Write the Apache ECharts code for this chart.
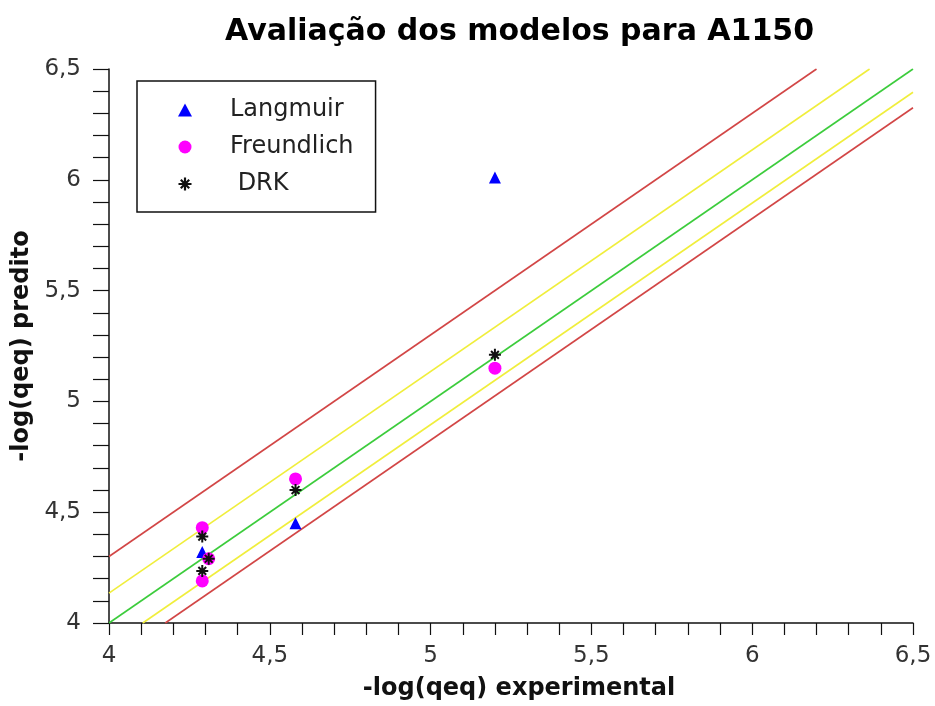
<!DOCTYPE html>
<html>
<head>
<meta charset="utf-8">
<script src="https://cdn.jsdelivr.net/npm/echarts@6/dist/echarts.min.js"></script>
<style>
  html, body { margin: 0; padding: 0; background: #fff; }
  #chart { width: 935px; height: 706px; }
</style>
</head>
<body>
<div id="chart"></div>
<script>
// Model predictions of -log(qeq) against the experimental values
const langmuirPts = [[4.29, 4.32], [4.58, 4.45], [5.20, 6.01]];
const freundlichPts = [[4.29, 4.43], [4.31, 4.29], [4.29, 4.19], [4.58, 4.65], [5.20, 5.15]];
const drkPts = [[4.29, 4.39], [4.31, 4.29], [4.29, 4.235], [4.58, 4.60], [5.20, 5.21]];

// Reference lines: identity and the two deviation bands (end points)
const identityLine = [[4, 4], [6.5, 6.5]];
const yellowUpper = [[4, 4.135], [6.365, 6.5]];
const yellowLower = [[4.105, 4], [6.5, 6.395]];
const redUpper = [[4, 4.30], [6.2, 6.5]];
const redLower = [[4.175, 4], [6.5, 6.325]];

const legendNames = ['Langmuir', 'Freundlich', ' DRK'];
const axisMin = 4, axisMax = 6.5, axisStep = 0.5;

const FONT = 'DejaVu Sans';
// eight-armed asterisk marker
const asteriskPath = 'path://M-1,-6L1,-6L1,6L-1,6Z M-6,-1L6,-1L6,1L-6,1Z ' +
  'M-3.18,-4.6L4.6,3.18L3.18,4.6L-4.6,-3.18Z M4.6,-3.18L-3.18,4.6L-4.6,3.18L3.18,-4.6Z';

const commaLabel = v => String(+v.toFixed(1)).replace('.', ',');

function refLine(data, color) {
  return {
    type: 'line', data: data, showSymbol: false, silent: true,
    lineStyle: { color: color, width: 1.6 }, z: 1, animation: false
  };
}

const chart = echarts.init(document.getElementById('chart'));
chart.setOption({
  animation: false,
  backgroundColor: '#fff',
  title: {
    text: 'Avaliação dos modelos para A1150',
    left: 225, top: 17, padding: 0,
    textStyle: { fontFamily: FONT, fontSize: 30, fontWeight: 'bold', color: '#000' }
  },
  grid: { left: 109, right: 22, top: 69, bottom: 82 },
  legend: {
    data: legendNames,
    orient: 'vertical',
    left: 137, top: 81,
    backgroundColor: '#fff',
    borderColor: '#111', borderWidth: 1.5,
    padding: [17, 22, 16, 41],
    itemWidth: 14, itemHeight: 13, itemGap: 13,
    textStyle: { fontFamily: FONT, fontSize: 24, lineHeight: 20, color: '#222', padding: [0, 0, 0, 33] }
  },
  xAxis: {
    type: 'value', min: axisMin, max: axisMax, interval: axisStep,
    name: '-log(qeq) experimental', nameLocation: 'middle', nameGap: 54,
    nameTextStyle: { fontFamily: FONT, fontSize: 24, fontWeight: 'bold', color: '#111', padding: [0, 0, 0, 16] },
    axisLine: { lineStyle: { color: '#111', width: 1.5 } },
    axisTick: { length: 12, lineStyle: { color: '#111', width: 1.2 } },
    minorTick: { show: true, splitNumber: 5, length: 12, lineStyle: { color: '#111', width: 1.2 } },
    splitLine: { show: false },
    axisLabel: { margin: 22, formatter: commaLabel, fontFamily: FONT, fontSize: 23, color: '#333' }
  },
  yAxis: {
    type: 'value', min: axisMin, max: axisMax, interval: axisStep,
    name: '-log(qeq) predito', nameLocation: 'middle', nameGap: 69, nameRotate: 90,
    nameTextStyle: { fontFamily: FONT, fontSize: 24, fontWeight: 'bold', color: '#111' },
    axisLine: { lineStyle: { color: '#111', width: 1.5 } },
    axisTick: { length: 16, lineStyle: { color: '#111', width: 1.2 } },
    minorTick: { show: true, splitNumber: 5, length: 16, lineStyle: { color: '#111', width: 1.2 } },
    splitLine: { show: false },
    axisLabel: { margin: 28, formatter: commaLabel, fontFamily: FONT, fontSize: 23, color: '#333' }
  },
  series: [
    refLine(redUpper, '#d24646'),
    refLine(yellowUpper, '#f0ee3c'),
    refLine(identityLine, '#3ccc3c'),
    refLine(yellowLower, '#f0ee3c'),
    refLine(redLower, '#d24646'),
    {
      name: 'Langmuir', type: 'scatter', data: langmuirPts,
      symbol: 'triangle', symbolSize: 12, itemStyle: { color: '#0000ff', opacity: 1 }, z: 3
    },
    {
      name: 'Freundlich', type: 'scatter', data: freundlichPts,
      symbol: 'circle', symbolSize: 13, itemStyle: { color: '#ff00ff', opacity: 1 }, z: 4
    },
    {
      name: ' DRK', type: 'scatter', data: drkPts,
      symbol: asteriskPath, symbolSize: 12, itemStyle: { color: '#111', opacity: 1 }, z: 5
    }
  ]
});
</script>
</body>
</html>
